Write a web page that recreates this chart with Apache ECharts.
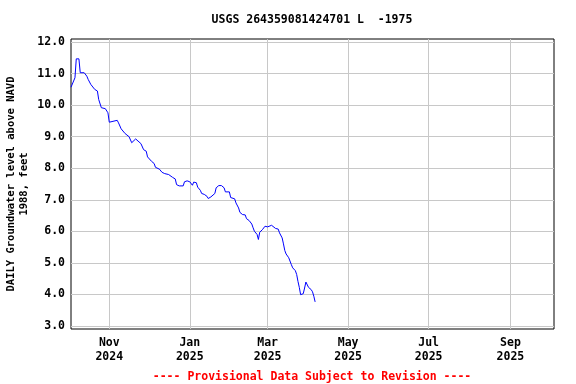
<!DOCTYPE html>
<html>
<head>
<meta charset="utf-8">
<script src="https://cdn.jsdelivr.net/npm/echarts@6/dist/echarts.min.js"></script>
<style>html,body{margin:0;padding:0;background:#fff}#c{width:576px;height:384px}</style>
</head>
<body>
<div id="c"></div>
<script>
const titleText = 'USGS 264359081424701 L  -1975';
const footerText = '---- Provisional Data Subject to Revision ----';
const yName = 'DAILY Groundwater level above NAVD\n1988, feet';

const dates = ['2024-10-03','2024-10-06','2024-10-07','2024-10-09','2024-10-10','2024-10-13','2024-10-15','2024-10-16','2024-10-18','2024-10-21','2024-10-23','2024-10-24','2024-10-26','2024-10-29','2024-10-31',
'2024-11-01','2024-11-02','2024-11-07','2024-11-08','2024-11-10','2024-11-13','2024-11-16','2024-11-18','2024-11-21','2024-11-22','2024-11-25','2024-11-27','2024-11-29','2024-11-30',
'2024-12-03','2024-12-05','2024-12-06','2024-12-09','2024-12-11','2024-12-13','2024-12-16','2024-12-19','2024-12-21','2024-12-22','2024-12-24','2024-12-27','2024-12-28','2024-12-30',
'2025-01-01','2025-01-02','2025-01-03','2025-01-04','2025-01-06','2025-01-07','2025-01-09','2025-01-10','2025-01-12','2025-01-14','2025-01-15','2025-01-17','2025-01-20','2025-01-21','2025-01-23','2025-01-25','2025-01-27','2025-01-28','2025-01-31',
'2025-02-01','2025-02-04','2025-02-05','2025-02-07','2025-02-08','2025-02-10','2025-02-12','2025-02-13','2025-02-15','2025-02-17','2025-02-18','2025-02-19','2025-02-21','2025-02-22','2025-02-23','2025-02-25','2025-02-27',
'2025-03-01','2025-03-04','2025-03-05','2025-03-07','2025-03-09','2025-03-10','2025-03-12','2025-03-13','2025-03-14','2025-03-15','2025-03-17','2025-03-19','2025-03-20','2025-03-22','2025-03-23','2025-03-24','2025-03-25','2025-03-26','2025-03-28','2025-03-29','2025-03-30','2025-03-31',
'2025-04-01','2025-04-03','2025-04-04','2025-04-05','2025-04-06'];

const levels = [10.57,10.87,11.47,11.47,11.03,11.03,10.92,10.82,10.66,10.50,10.45,10.18,9.92,9.89,9.76,
9.46,9.52,9.52,9.44,9.25,9.10,9.00,8.81,8.93,8.93,8.78,8.59,8.54,8.36,
8.22,8.15,8.03,7.97,7.87,7.83,7.80,7.71,7.66,7.48,7.44,7.44,7.57,7.60,
7.57,7.52,7.46,7.56,7.54,7.40,7.30,7.20,7.17,7.11,7.04,7.09,7.20,7.38,7.45,7.45,7.38,7.25,7.25,
7.07,7.03,6.90,6.74,6.60,6.53,6.52,6.40,6.34,6.23,6.11,6.00,5.90,5.74,5.97,6.05,6.16,
6.14,6.19,6.19,6.09,6.07,5.95,5.79,5.60,5.39,5.28,5.16,4.94,4.84,4.75,4.63,4.41,4.22,3.99,4.02,4.20,4.39,4.39,
4.22,4.15,4.08,3.94,3.76];

const xTickDates = ['2024-11-01','2025-01-01','2025-03-01','2025-05-01','2025-07-01','2025-09-01'];
const xTickLabels = ['Nov\n2024','Jan\n2025','Mar\n2025','May\n2025','Jul\n2025','Sep\n2025'];
const yTicks = [3,4,5,6,7,8,9,10,11,12];
const yTickLabels = ['3.0','4.0','5.0','6.0','7.0','8.0','9.0','10.0','11.0','12.0'];
const xMin = '2024-10-03';
const xMax = '2025-10-04';
const yMin = 2.9;
const yMax = 12.1;

const FONT = '"DejaVu Sans Mono", "Liberation Mono", monospace';
const toMs = d => Date.parse(d + 'T00:00:00Z');
const tickTimes = xTickDates.map(toMs);

const chart = echarts.init(document.getElementById('c'), null, {renderer: 'canvas'});
chart.setOption({
  animation: false,
  backgroundColor: '#fff',
  title: [
    {text: titleText, left: 312, top: 14, textAlign: 'center', padding: 0,
     textStyle: {fontFamily: FONT, fontSize: 11.5, fontWeight: 'bold', color: '#000'}},
    {text: footerText, left: 312, top: 371, textAlign: 'center', padding: 0,
     textStyle: {fontFamily: FONT, fontSize: 11.5, fontWeight: 'bold', color: '#ff0000'}}
  ],
  grid: {left: 71, right: 22, top: 39, bottom: 55, show: true, borderColor: '#000', borderWidth: 1,
    backgroundColor: 'transparent', containLabel: false, outerBoundsMode: 'none'},
  xAxis: {
    type: 'value', min: toMs(xMin), max: toMs(xMax),
    axisLine: {show: false},
    axisTick: {show: false, customValues: tickTimes},
    axisLabel: {customValues: tickTimes, margin: 7, lineHeight: 14,
      fontFamily: FONT, fontSize: 11.5, fontWeight: 'bold', color: '#000',
      formatter: function (v) {
        let best = 0, bd = Infinity;
        tickTimes.forEach((t, i) => { const d = Math.abs(t - v); if (d < bd) { bd = d; best = i; } });
        return xTickLabels[best];
      }},
    splitLine: {show: true, lineStyle: {color: '#c8c8c8', width: 1}}
  },
  yAxis: {
    type: 'value', min: yMin, max: yMax,
    name: yName, nameLocation: 'middle', nameRotate: 90, nameGap: 40, nameMoveOverlap: false,
    nameTextStyle: {fontFamily: FONT, fontSize: 10.5, fontWeight: 'bold', color: '#000', lineHeight: 13},
    axisLine: {show: false},
    axisTick: {show: false, customValues: yTicks},
    axisLabel: {customValues: yTicks, margin: 6,
      fontFamily: FONT, fontSize: 11.5, fontWeight: 'bold', color: '#000',
      formatter: function (v) { const i = yTicks.indexOf(Math.round(v)); return yTickLabels[i]; }},
    splitLine: {show: true, lineStyle: {color: '#c8c8c8', width: 1}}
  },
  series: [{
    type: 'line', data: dates.map((d, i) => [toMs(d), levels[i]]),
    showSymbol: false, symbol: 'none',
    lineStyle: {color: '#0000ff', width: 1},
    z: 5
  }]
});
</script>
</body>
</html>
